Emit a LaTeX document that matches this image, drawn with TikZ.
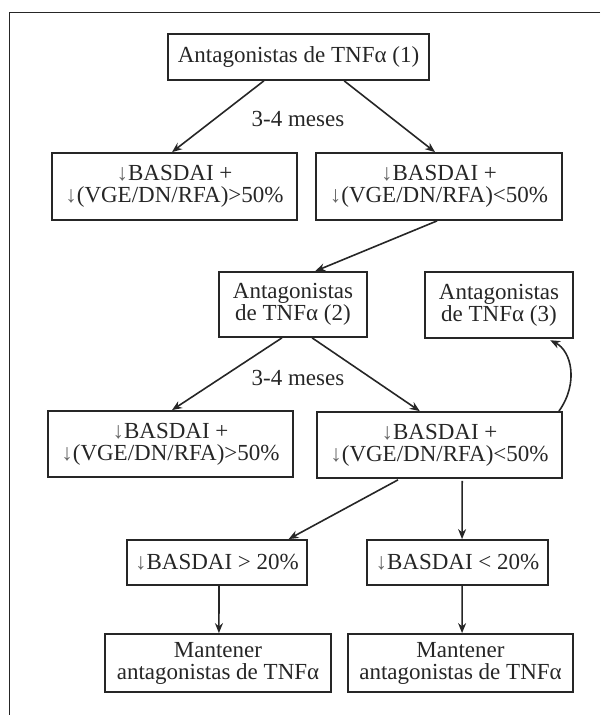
\documentclass[tikz,border=0pt]{standalone}
\usepackage{fontspec}
\setmainfont{Liberation Serif}
\usetikzlibrary{arrows.meta,calc}
\definecolor{ink}{HTML}{262626}
\newcommand\darr{{\color{ink!70}↓}}
\tikzset{
  box/.style 2 args={draw=ink, line width=1.8pt, minimum width=#1, minimum height=#2,
    inner sep=0pt, align=center, text=ink, font=\fontsize{23}{22}\selectfont},
  lbl/.style={text=ink, inner sep=0pt, font=\fontsize{23}{22}\selectfont},
  arr/.style={draw=ink, line width=1.6pt, -{Stealth[length=10pt,width=8pt]}},
  frame/.style={draw=ink, line width=1.4pt}
}
\begin{document}
\begin{tikzpicture}[x=1pt,y=-1pt]
\useasboundingbox (0,0) rectangle (600,715);
\draw[frame] (600,12.5) -- (9.5,12.5) -- (9.5,715);

\node[box={261}{46}] (b1) at (298.5,57) {Antagonistas de TNFα (1)};
\node[box={245}{67}] (r2l) at (174.5,186.5) {\darr BASDAI +\\\darr(VGE/DN/RFA)>50\%};
\node[box={246}{67}] (r2r) at (439,186.5) {\darr BASDAI +\\\darr(VGE/DN/RFA)<50\%};
\node[box={148}{65}] (b2) at (293,304.5) {Antagonistas\\de TNFα (2)};
\node[box={148}{66}] (b3) at (499,305) {Antagonistas\\de TNFα (3)};
\node[box={245}{66}] (r4l) at (170.5,444) {\darr BASDAI +\\\darr(VGE/DN/RFA)>50\%};
\node[box={245}{66}] (r4r) at (439.5,445) {\darr BASDAI +\\\darr(VGE/DN/RFA)<50\%};
\node[box={180}{45}] (r5l) at (217,562.5) {\darr BASDAI > 20\%};
\node[box={181}{45}] (r5r) at (457.5,562.5) {\darr BASDAI < 20\%};
\node[box={226}{58}] (r6l) at (218,663) {Mantener\\antagonistas de TNFα};
\node[box={225}{58}] (r6r) at (460.5,663) {Mantener\\antagonistas de TNFα};

\node[lbl] (m1) at (298,119) {3-4 meses};
\node[lbl] (m2) at (298,378) {3-4 meses};

\coordinate (cs) at ($(r4r.north west)!0.984!(r4r.north east)$);
\coordinate (ce) at ($(b3.south west)!0.824!(b3.south east)$);

\draw[arr] ($(b1.south west)!0.368!(b1.south east)$) -- ($(r2l.north west)!0.49!(r2l.north east)$);
\draw[arr] ($(b1.south west)!0.674!(b1.south east)$) -- ($(r2r.north west)!0.484!(r2r.north east)$);
\draw[arr] ($(r2r.south west)!0.492!(r2r.south east)$) -- ($(b2.north west)!0.649!(b2.north east)$);
\draw[arr] ($(b2.south west)!0.426!(b2.south east)$) -- ($(r4l.north west)!0.506!(r4l.north east)$);
\draw[arr] ($(b2.south west)!0.628!(b2.south east)$) -- ($(r4r.north west)!0.42!(r4r.north east)$);
\draw[arr, shorten >=3pt] (cs) .. controls ($(cs)+(20,-28)$) and ($(ce)+(24,12)$) .. (ce);
\draw[arr, shorten <=2pt] ($(r4r.south west)!0.339!(r4r.south east)$) -- ($(r5l.north west)!0.894!(r5l.north east)$);
\draw[arr, shorten <=2pt] ($(r4r.south west)!0.592!(r4r.south east)$) -- ($(r5r.north west)!0.525!(r5r.north east)$);
\draw[arr] ($(r5l.south west)!0.511!(r5l.south east)$) -- ($(r6l.north west)!0.504!(r6l.north east)$);
\draw[arr] ($(r5r.south west)!0.525!(r5r.south east)$) -- ($(r6r.north west)!0.507!(r6r.north east)$);
\end{tikzpicture}
\end{document}
